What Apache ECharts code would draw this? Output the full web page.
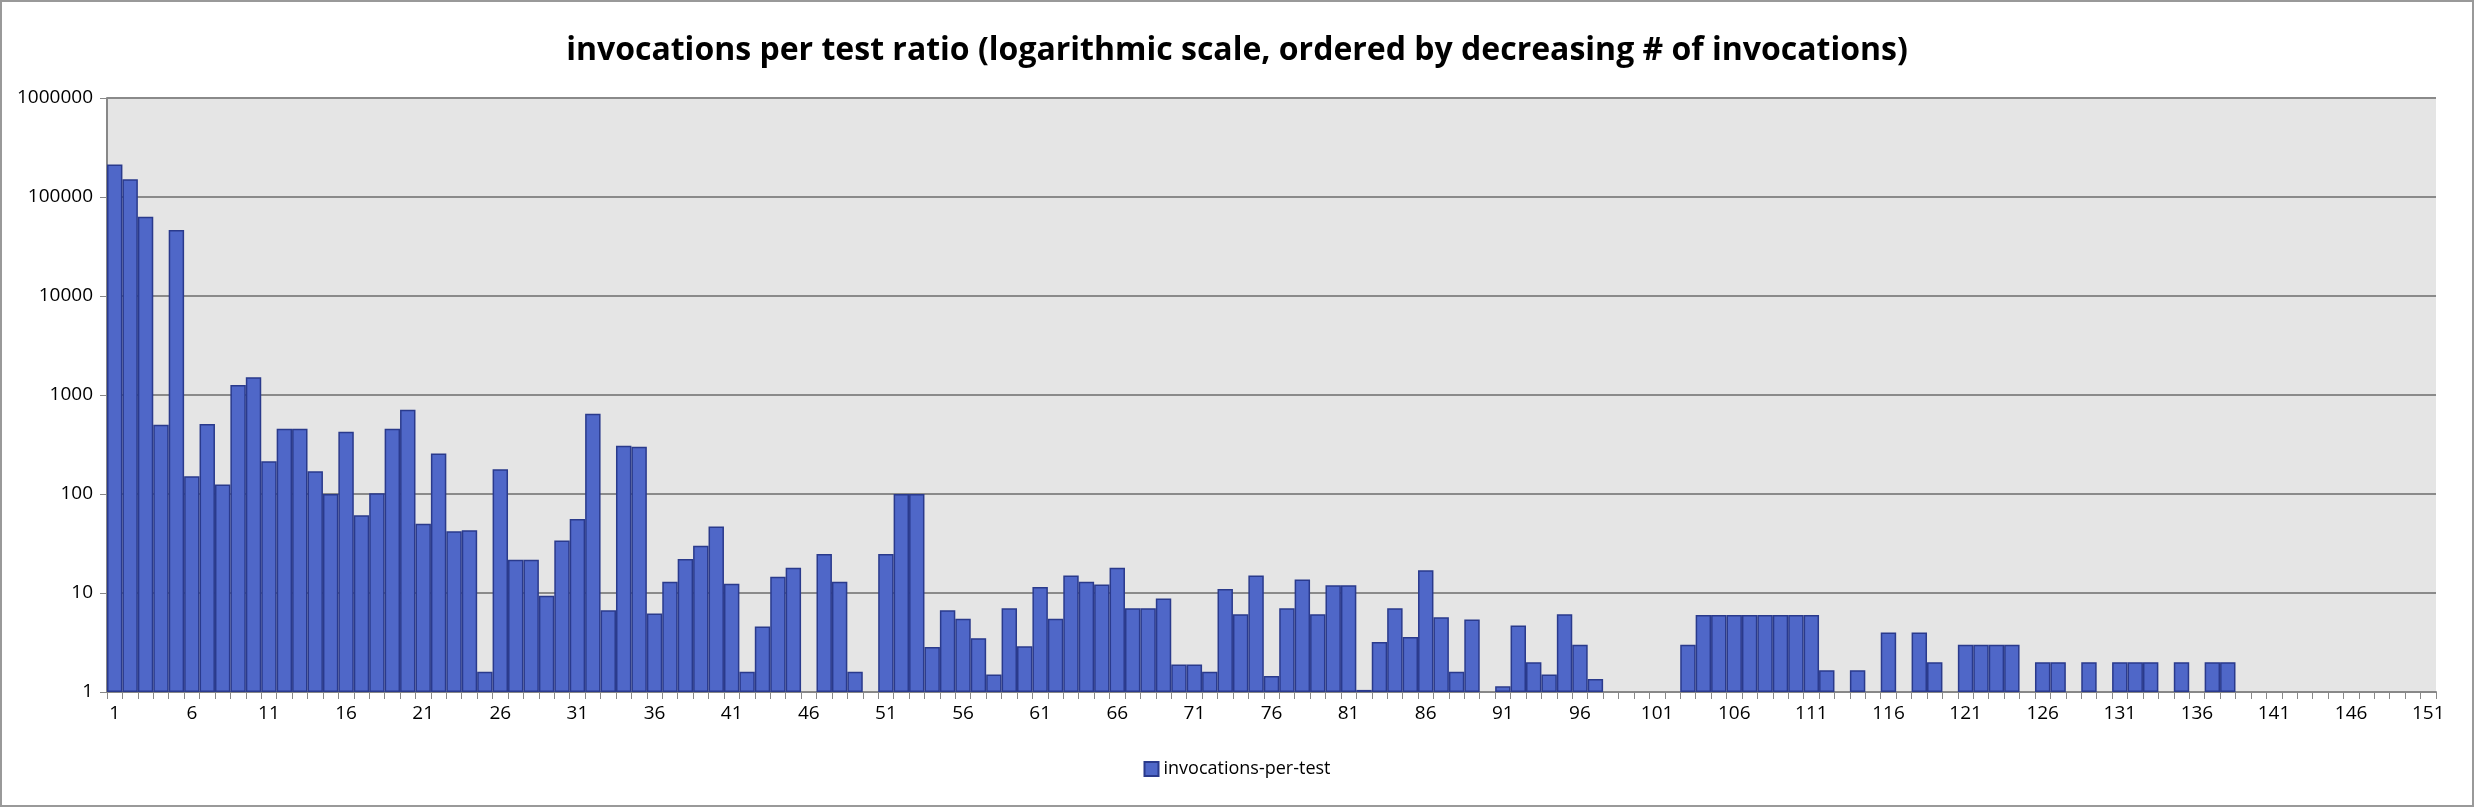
<!DOCTYPE html>
<html>
<head>
<meta charset="utf-8">
<script src="https://cdn.jsdelivr.net/npm/echarts@6/dist/echarts.min.js"></script>
<style>
  html, body { margin: 0; padding: 0; background: #fff; }
  #chart { width: 2474px; height: 807px; box-sizing: border-box; border: 2px solid #999; }
</style>
</head>
<body>
<div id="chart"></div>
<script>
// categories 1..151
let categories = []
for (let i = 1; i <= 151; i++) categories.push(String(i))

// invocations per test (null = no bar)
let values1to40 = [213000, 151000, 63000, 500, 46500, 151, 510, 125, 1260, 1510,
  214, 457, 457, 170, 100, 426, 61, 102, 457, 710,
  50, 257, 42, 43, 1.6, 178, 21.7, 21.7, 9.4, 34,
  56, 648, 6.7, 307, 300, 6.2, 13, 22, 30, 47]
let values41to80 = [12.4, 1.6, 4.6, 14.6, 18, null, 24.7, 13, 1.6, null,
  24.7, 100, 100, 2.85, 6.7, 5.5, 3.5, 1.5, 7, 2.9,
  11.5, 5.5, 15, 13, 12.2, 18, 7, 7, 8.8, 1.9,
  1.9, 1.6, 11, 6.1, 15, 1.45, 7, 13.7, 6.1, 12]
let values81to120 = [12, 1.05, 3.2, 7, 3.6, 17, 5.7, 1.6, 5.4, null,
  1.14, 4.7, 2.0, 1.5, 6.1, 3.0, 1.35, null, null, null,
  null, null, 3.0, 6, 6, 6, 6, 6, 6, 6,
  6, 1.66, null, 1.66, null, 4, null, 4, 2, null]
let values121to151 = [3, 3, 3, 3, null, 2, 2, null, 2, null,
  2, 2, 2, null, 2, null, 2, 2, null, null,
  null, null, null, null, null, null, null, null, null, null, null]
let seriesValues = [].concat(values1to40, values41to80, values81to120, values121to151)

let yTicks = [1, 10, 100, 1000, 10000, 100000, 1000000]

let chart = echarts.init(document.getElementById('chart'))
chart.setOption({
  animation: false,
  title: {
    text: 'invocations per test ratio (logarithmic scale, ordered by decreasing # of invocations)',
    left: 'center',
    top: 28,
    textStyle: { fontFamily: 'Open Sans', fontSize: 32, fontWeight: 'bold', color: '#000' }
  },
  legend: {
    bottom: 22,
    left: 'center',
    icon: 'rect',
    itemWidth: 14,
    itemHeight: 14,
    textStyle: { fontFamily: 'Open Sans', fontSize: 18, color: '#000' }
  },
  grid: {
    left: 105, right: 36, top: 96, bottom: 113,
    show: true, backgroundColor: '#e5e5e5', borderWidth: 0
  },
  xAxis: {
    type: 'category',
    data: categories,
    axisLine: { lineStyle: { color: '#888', width: 2 } },
    axisTick: { show: true, interval: 0, alignWithLabel: false, lineStyle: { color: '#888' }, length: 7 },
    axisLabel: { interval: 4, fontFamily: 'Open Sans', fontSize: 19, color: '#000', margin: 12 }
  },
  yAxis: {
    type: 'log',
    logBase: 10,
    min: 1,
    max: 1000000,
    axisLine: { show: true, lineStyle: { color: '#888', width: 2 } },
    axisTick: { show: true, lineStyle: { color: '#888' }, length: 7 },
    splitLine: { lineStyle: { color: '#8a8a8a', width: 2 } },
    axisLabel: {
      fontFamily: 'Open Sans', fontSize: 19, color: '#000', margin: 14,
      formatter: v => yTicks.indexOf(v) >= 0 ? String(v) : ''
    }
  },
  series: [{
    name: 'invocations-per-test',
    type: 'bar',
    data: seriesValues,
    barCategoryGap: 0,
    itemStyle: { color: '#4f67c8', borderColor: '#2a3a8c', borderWidth: 1.5 }
  }]
})
</script>
</body>
</html>
